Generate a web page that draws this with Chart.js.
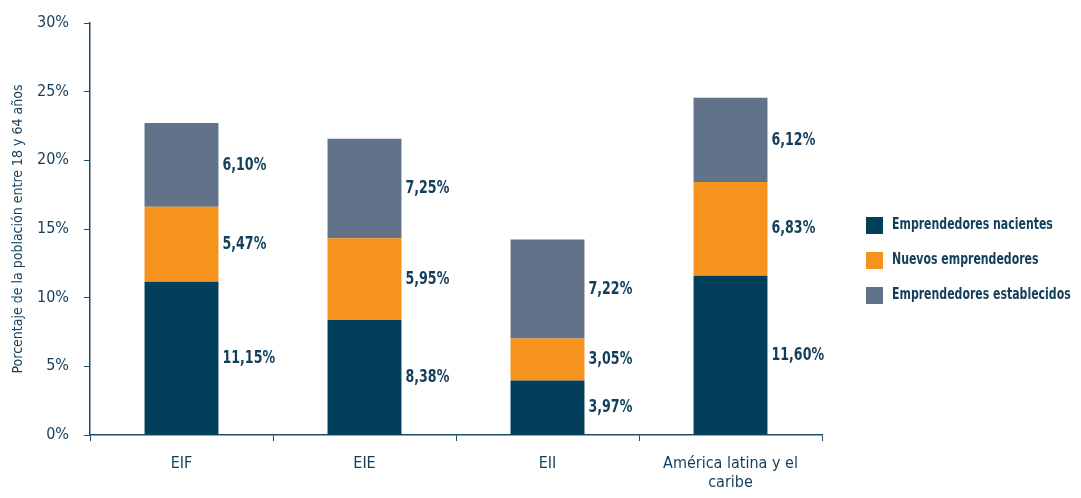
<!DOCTYPE html>
<html>
<head>
<meta charset="utf-8">
<script src="https://cdn.jsdelivr.net/npm/chart.js@4/dist/chart.umd.min.js"></script>
<style>
  html, body { margin: 0; padding: 0; background: #fff; }
  #wrap { width: 1081px; height: 498px; }
</style>
</head>
<body>
<div id="wrap"><canvas id="grafico" width="1081" height="498"></canvas></div>
<script>
// Datos
const categorias = ['EIF', 'EIE', 'EII', ['América latina y el', 'caribe']];
const nacientes = [11.15, 8.38, 3.97, 11.60];
const nuevos = [5.47, 5.95, 3.05, 6.83];
const establecidos = [6.10, 7.25, 7.22, 6.12];
const ticksY = [0, 5, 10, 15, 20, 25, 30];

const FUENTE = '"DejaVu Sans Condensed", "Liberation Sans Narrow", sans-serif';
const TEXTO = '#123e5a';

const fmt = v => v.toFixed(2).replace('.', ',') + '%';

// texto estrechado horizontalmente (la fuente original es muy condensada)
function textoEstrecho(ctx, txt, x, y, esc) {
    ctx.save();
    ctx.translate(x, y);
    ctx.scale(esc, 1);
    ctx.fillText(txt, 0, 0);
    ctx.restore();
}

// Etiquetas de valores a la derecha de cada segmento
const etiquetas = {
    id: 'etiquetas',
    afterDatasetsDraw(chart) {
        const ctx = chart.ctx;
        ctx.save();
        ctx.font = 'bold 18px ' + FUENTE;
        ctx.fillStyle = TEXTO;
        ctx.textBaseline = 'middle';
        ctx.textAlign = 'left';
        chart.data.datasets.forEach((ds, i) => {
            chart.getDatasetMeta(i).data.forEach((bar, j) => {
                const y = (bar.y + bar.base) / 2;
                textoEstrecho(ctx, fmt(ds.data[j]), bar.x + bar.width / 2 + 4, y, 0.78);
            });
        });
        ctx.restore();
    }
};

// Leyenda propia a la derecha
const leyenda = {
    id: 'leyenda',
    afterDraw(chart) {
        const ctx = chart.ctx;
        ctx.save();
        ctx.font = 'bold 16px ' + FUENTE;
        ctx.textBaseline = 'middle';
        ctx.textAlign = 'left';
        chart.data.datasets.forEach((ds, i) => {
            const y = 225 + i * 35;
            ctx.fillStyle = ds.backgroundColor;
            ctx.fillRect(866, y - 8, 17, 17);
            ctx.fillStyle = TEXTO;
            textoEstrecho(ctx, ds.label, 892, y, 0.76);
        });
        ctx.restore();
    }
};

new Chart(document.getElementById('grafico'), {
    type: 'bar',
    data: {
        labels: categorias,
        datasets: [
            { label: 'Emprendedores nacientes', data: nacientes, backgroundColor: '#023f5b' },
            { label: 'Nuevos emprendedores', data: nuevos, backgroundColor: '#f6921e' },
            { label: 'Emprendedores establecidos', data: establecidos, backgroundColor: '#627389' }
        ]
    },
    options: {
        responsive: false,
        animation: false,
        layout: { padding: { top: 2, right: 259, bottom: 0, left: 0 } },
        datasets: { bar: { categoryPercentage: 1, barPercentage: 0.404 } },
        plugins: {
            legend: { display: false },
            tooltip: { enabled: false }
        },
        scales: {
            x: {
                stacked: true,
                offset: true,
                afterFit(axis) { axis.height = 63; },
                grid: { offset: true, drawOnChartArea: false, tickLength: 6, color: '#1f4d68', lineWidth: 1 },
                border: { color: '#1f4d68', width: 1.5 },
                ticks: { color: TEXTO, font: { family: FUENTE, size: 16 }, padding: 13, maxRotation: 0 }
            },
            y: {
                stacked: true,
                min: 0,
                max: 30,
                afterBuildTicks(axis) { axis.ticks = ticksY.map(v => ({ value: v })); },
                afterFit(axis) { axis.width = 90; },
                grid: { drawOnChartArea: false, tickLength: 6, color: '#1f4d68' },
                border: { color: '#1f4d68', width: 1.5 },
                ticks: {
                    color: TEXTO,
                    font: { family: FUENTE, size: 16, lineHeight: 1 },
                    padding: 15,
                    callback: v => v + '%'
                },
                title: {
                    display: true,
                    text: 'Porcentaje de la población entre 18 y 64 años',
                    color: TEXTO,
                    font: { family: FUENTE, size: 14 },
                    padding: { top: 10, bottom: 0 }
                }
            }
        }
    },
    plugins: [etiquetas, leyenda]
});
</script>
</body>
</html>
